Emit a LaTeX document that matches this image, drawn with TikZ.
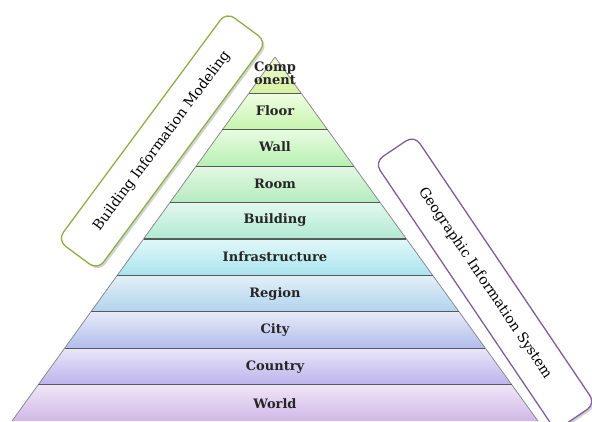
\documentclass[tikz,border=0pt]{standalone}
\usepackage{fontspec}
\setmainfont{DejaVu Serif}
\usetikzlibrary{shadows}
\definecolor{c0t}{HTML}{F2FBDC}\definecolor{c0b}{HTML}{D6F0A0}
\definecolor{c1t}{HTML}{F0FDE2}\definecolor{c1b}{HTML}{C6F4AE}
\definecolor{c2t}{HTML}{E8FBE2}\definecolor{c2b}{HTML}{B8F0B2}
\definecolor{c3t}{HTML}{E4F8E2}\definecolor{c3b}{HTML}{B4EBBE}
\definecolor{c4t}{HTML}{E2F8EE}\definecolor{c4b}{HTML}{B0EAD2}
\definecolor{c5t}{HTML}{E2F8FA}\definecolor{c5b}{HTML}{A8E4EC}
\definecolor{c6t}{HTML}{E4EFF8}\definecolor{c6b}{HTML}{B0D4EC}
\definecolor{c7t}{HTML}{E8EAF8}\definecolor{c7b}{HTML}{B0BCEC}
\definecolor{c8t}{HTML}{EAE6F8}\definecolor{c8b}{HTML}{BCB4EC}
\definecolor{c9t}{HTML}{F0E6F6}\definecolor{c9b}{HTML}{D0B8E8}
\definecolor{bimgreen}{HTML}{8DB04A}
\definecolor{gispurple}{HTML}{7E60A2}
\begin{document}
\begin{tikzpicture}[x=1pt,y=-1pt,
  lvl/.style={font=\bfseries\fontsize{13}{14}\selectfont, text=black!85, align=center},
  sidebox/.style={draw, line width=1.3pt, rounded corners=10pt, fill=white, align=center,
    font=\fontsize{14}{16}\selectfont, inner sep=0pt,
    drop shadow={opacity=0.35, shadow xshift=2pt, shadow yshift=-2pt}},
  sep/.style={draw=black!65, line width=1.1pt},
  edge/.style={draw=black!45, line width=0.8pt}]
\useasboundingbox (0,0) rectangle (592,421);
% pyramid layers
\foreach \i/\nm in {0/comp,1/floor,2/wall,3/room,4/bldg,5/infra,6/region,7/city,8/country,9/world}{
  \pgfmathsetmacro{\ya}{57+36.4*\i}
  \pgfmathsetmacro{\yb}{57+36.4*(\i+1)}
  \pgfmathsetmacro{\ha}{(\ya-57)*0.7225}
  \pgfmathsetmacro{\hb}{(\yb-57)*0.7225}
  \shade[top color=c\i t, bottom color=c\i b] (275-\ha,\ya) -- (275+\ha,\ya) -- (275+\hb,\yb) -- (275-\hb,\yb) -- cycle;
  \draw[edge] (275-\ha,\ya) -- (275-\hb,\yb) (275+\ha,\ya) -- (275+\hb,\yb);
  \ifnum\i>0
    \draw[sep] (275-\ha,\ya) -- (275+\ha,\ya);
  \fi
}
\node[lvl, inner sep=0pt] (comp) at (275,73.5) {Comp\\[-1pt]onent};
\node[lvl] (floor) at (275,111) {Floor};
\node[lvl] (wall) at (275,147) {Wall};
\node[lvl] (room) at (275,184) {Room};
\node[lvl] (bldg) at (275,220) {Building};
\node[lvl] (infra) at (275,257) {Infrastructure};
\node[lvl] (region) at (275,294) {Region};
\node[lvl] (city) at (275,330) {City};
\node[lvl] (country) at (275,367) {Country};
\node[lvl] (world) at (275,404) {World};
% side boxes
\node[sidebox, draw=bimgreen, minimum width=284pt, minimum height=50pt, rotate=53.5] (bim) at (162,141) {Building Information Modeling};
\node[sidebox, draw=gispurple, minimum width=324pt, minimum height=48pt, rotate=-56] (gis) at (485,283) {Geographic Information System};
\end{tikzpicture}
\end{document}
